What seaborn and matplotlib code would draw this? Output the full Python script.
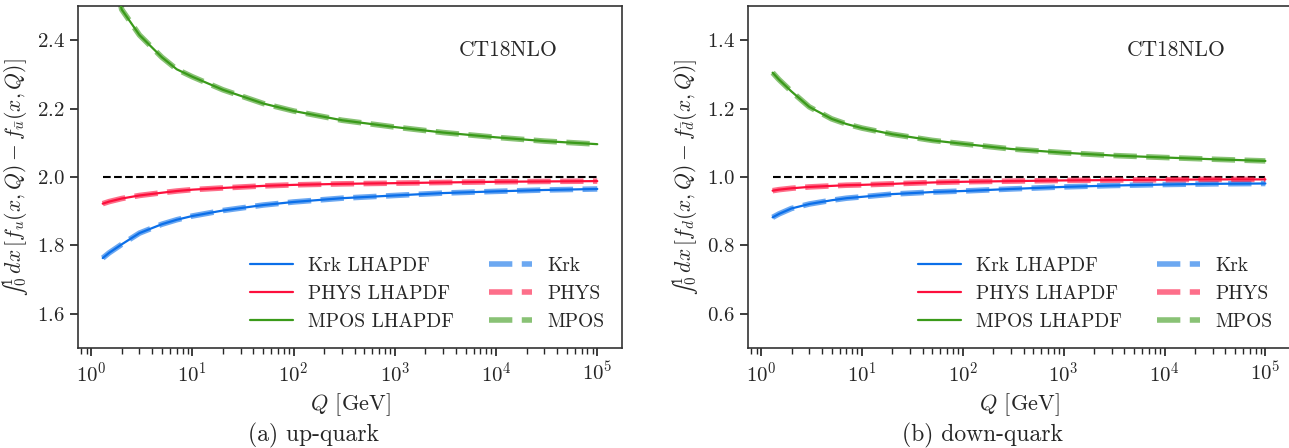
import numpy as np
import pandas as pd
import matplotlib
matplotlib.use("Agg")
import matplotlib.pyplot as plt
import seaborn as sns

# ---- data ----
Q = [1.3, 1.5, 2, 3, 5, 7, 10, 20, 50, 100, 300, 1000, 3000, 1e4, 3e4, 1e5]

up_krk = [1.763, 1.778, 1.803, 1.836, 1.862, 1.875, 1.886, 1.902, 1.918, 1.927,
          1.938, 1.946, 1.953, 1.958, 1.962, 1.965]
up_phys = [1.922, 1.928, 1.937, 1.946, 1.954, 1.959, 1.963, 1.968, 1.974, 1.977,
           1.980, 1.982, 1.984, 1.986, 1.987, 1.988]
up_mpos = [2.80, 2.68, 2.49, 2.415, 2.35, 2.315, 2.293, 2.255, 2.215, 2.193,
           2.166, 2.146, 2.130, 2.116, 2.105, 2.096]

down_krk = [0.882, 0.892, 0.908, 0.921, 0.932, 0.938, 0.942, 0.950, 0.956, 0.959,
            0.965, 0.971, 0.975, 0.978, 0.980, 0.981]
down_phys = [0.960, 0.963, 0.967, 0.971, 0.974, 0.976, 0.977, 0.980, 0.984, 0.986,
             0.988, 0.990, 0.991, 0.992, 0.993, 0.993]
down_mpos = [1.305, 1.285, 1.250, 1.205, 1.170, 1.155, 1.143, 1.125, 1.107, 1.097,
             1.082, 1.071, 1.063, 1.057, 1.052, 1.047]

schemes = ["Krk", "PHYS", "MPOS"]
sum_rule_up = 2.0
sum_rule_down = 1.0
ylims_up = (1.5, 2.5)
ylims_down = (0.5, 1.5)
yticks_up = [1.6, 1.8, 2.0, 2.2, 2.4]
yticks_down = [0.6, 0.8, 1.0, 1.2, 1.4]
captions = ["(a) up-quark", "(b) down-quark"]
INT = "\u222B"
ylabels = ["$" + INT + r"_0^1\, dx\,[f_u(x,Q) - f_{\bar{u}}(x,Q)]$",
           "$" + INT + r"_0^1\, dx\,[f_d(x,Q) - f_{\bar{d}}(x,Q)]$"]
xlabel = r"$Q$ [GeV]"
set_label = "CT18NLO"

colors = {"Krk": "#0b6fe9", "PHYS": "#fd0f3c", "MPOS": "#3a9a1a"}

# ---- style ----
sns.set_theme(style="ticks")
plt.rcParams.update({
    "font.family": ["cmr10", "DejaVu Serif"],
    "mathtext.fontset": "cm",
    "axes.unicode_minus": False,
    "axes.formatter.use_mathtext": True,
    "font.size": 15,
    "axes.labelsize": 15.5,
    "xtick.labelsize": 15,
    "ytick.labelsize": 15,
    "legend.fontsize": 14,
    "axes.edgecolor": "#333333",
    "axes.linewidth": 1.2,
    "xtick.direction": "out",
    "ytick.direction": "out",
})

fig = plt.figure(figsize=(12.89, 4.48), dpi=100)
ax_up = fig.add_axes([78/1289, 1-348/448, 544/1289, 342/448])
ax_dn = fig.add_axes([748/1289, 1-348/448, 542/1289, 342/448])


def make_df(krk, phys, mpos):
    rows = []
    for name, vals in zip(schemes, [krk, phys, mpos]):
        for q, v in zip(Q, vals):
            rows.append({"Q": q, "value": v, "scheme": name})
    return pd.DataFrame(rows)


panels = [
    (ax_up, make_df(up_krk, up_phys, up_mpos), sum_rule_up, ylims_up, yticks_up),
    (ax_dn, make_df(down_krk, down_phys, down_mpos), sum_rule_down, ylims_down, yticks_down),
]

for i, (ax, df, ref, ylim, yt) in enumerate(panels):
    ref_df = pd.DataFrame({"Q": [Q[0], Q[-1]], "value": [ref, ref]})
    sns.lineplot(data=ref_df, x="Q", y="value", ax=ax, color="black",
                 linestyle="--", linewidth=1.5, legend=False)
    for name in schemes:
        sub = df[df["scheme"] == name]
        sns.lineplot(data=sub, x="Q", y="value", ax=ax, color=colors[name],
                     linewidth=1.6, label=name + " LHAPDF", zorder=3)
    for name in schemes:
        sub = df[df["scheme"] == name]
        sns.lineplot(data=sub, x="Q", y="value", ax=ax, color=colors[name],
                     linewidth=4, alpha=0.6, label=name, zorder=2)
    for line in ax.get_lines()[-3:]:
        line.set_dashes((4.2, 1.7))

    ax.set_xscale("log")
    ax.set_ylim(*ylim)
    ax.set_yticks(yt)
    ax.set_xlabel(xlabel, labelpad=4, fontsize=16)
    ax.set_ylabel(ylabels[i], labelpad=4)
    ax.text(0.882, 0.87, set_label, transform=ax.transAxes, ha="right",
            va="center", fontsize=15.5)
    h, l = ax.get_legend_handles_labels()
    ax.legend(h, l, ncol=2, loc="lower right", frameon=False,
              columnspacing=1.8, borderaxespad=0.5, labelspacing=0.5,
              handlelength=2.2)
    for sp in ax.spines.values():
        sp.set_visible(True)

fig.text(314/1289, 1-435/448, captions[0], ha="center", va="center", fontsize=17)
fig.text(983/1289, 1-435/448, captions[1], ha="center", va="center", fontsize=17)

fig.savefig("out.png", dpi=100)
